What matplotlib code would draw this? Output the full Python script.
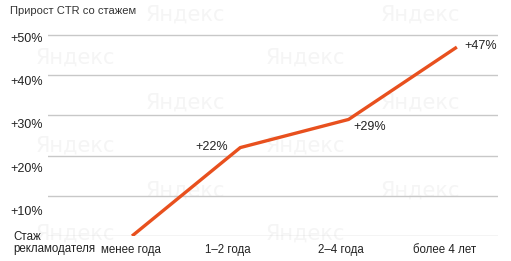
import matplotlib
matplotlib.use("Agg")
import matplotlib.pyplot as plt
from matplotlib import transforms

categories = ["менее года", "1–2 года", "2–4 года", "более 4 лет"]
ctr_growth = [0, 22, 29, 47]
point_labels = ["", "+22%", "+29%", "+47%"]
y_ticks = [10, 20, 30, 40, 50]
y_tick_labels = ["+10%", "+20%", "+30%", "+40%", "+50%"]
title = "Прирост CTR со стажем"
axis_caption = ["Стаж", "рекламодателя"]

plt.rcParams['font.family'] = ['Liberation Sans', 'DejaVu Sans']
W, H = 511, 261
fig = plt.figure(figsize=(W / 100, H / 100), dpi=100)
fig.patch.set_facecolor("white")

# watermarks
wm_cols = [75, 185, 305, 420]
for ci, cx in enumerate(wm_cols):
    offs = [58, 146, 234] if ci % 2 == 0 else [15, 103, 191]
    for cy in offs:
        fig.text(cx / W, 1 - cy / H, "Яндекс", fontsize=15, color="#f5f5f5",
                 family=['Liberation Sans Narrow', 'DejaVu Sans'],
                 ha="center", va="center", zorder=-5)

left, right = 48, 498
top, bottom = 27, 236
ax = fig.add_axes([left / W, 1 - bottom / H, (right - left) / W, (bottom - top) / H])
ax.set_zorder(2)
ax.set_facecolor("none")
x = list(range(len(categories)))
ax.set_xlim(-0.776, 3.38)
ax.set_ylim(0, 52)
for s in ax.spines.values():
    s.set_visible(False)
for v in [0] + y_ticks:
    ax.axhline(v, color="#c8c8c8", lw=1, zorder=1)
ax.plot(x, ctr_growth, color="#e8501e", lw=2.4, solid_capstyle="butt", zorder=3)

ax.set_xticks(x)
ax.set_xticklabels(categories, fontsize=8.3, color="#222222")
ax.tick_params(axis="x", length=0, pad=6)
dx = [-1, -12, -8, -12]
for lab, d in zip(ax.get_xticklabels(), dx):
    lab.set_transform(lab.get_transform() + transforms.ScaledTranslation(d / 100, 0, fig.dpi_scale_trans))
ax.set_yticks([])

# y tick labels on a twin axis (labels spaced slightly wider than gridlines)
ax2 = ax.twinx()
ax2.set_zorder(3)
ax2.set_ylim(4.05, 52.43)
for s in ax2.spines.values():
    s.set_visible(False)
ax2.yaxis.set_ticks_position("left")
ax2.set_yticks(y_ticks)
ax2.set_yticklabels(y_tick_labels, fontsize=9, color="#222222", ha="left")
ax2.tick_params(axis="y", length=0, pad=27.4)

# point annotations
offsets = {1: (-12, 1, "right"), 2: (5, -8, "left"), 3: (7, 1, "left")}
for i, (v, t) in enumerate(zip(ctr_growth, point_labels)):
    if not t:
        continue
    ox, oy, ha = offsets[i]
    ax.annotate(t, (x[i], v), xytext=(ox, oy), textcoords="offset pixels",
                ha=ha, va="center", fontsize=9, color="#222222", zorder=4)

fig.text(10 / W, 1 - 11 / H, title, fontsize=8, color="#333333", ha="left", va="center")
for line, yy in zip(axis_caption, [237, 249]):
    fig.text(13 / W, 1 - yy / H, line, fontsize=8.3, color="#222222", ha="left", va="center")

fig.savefig("out.png", dpi=100, facecolor="white")
